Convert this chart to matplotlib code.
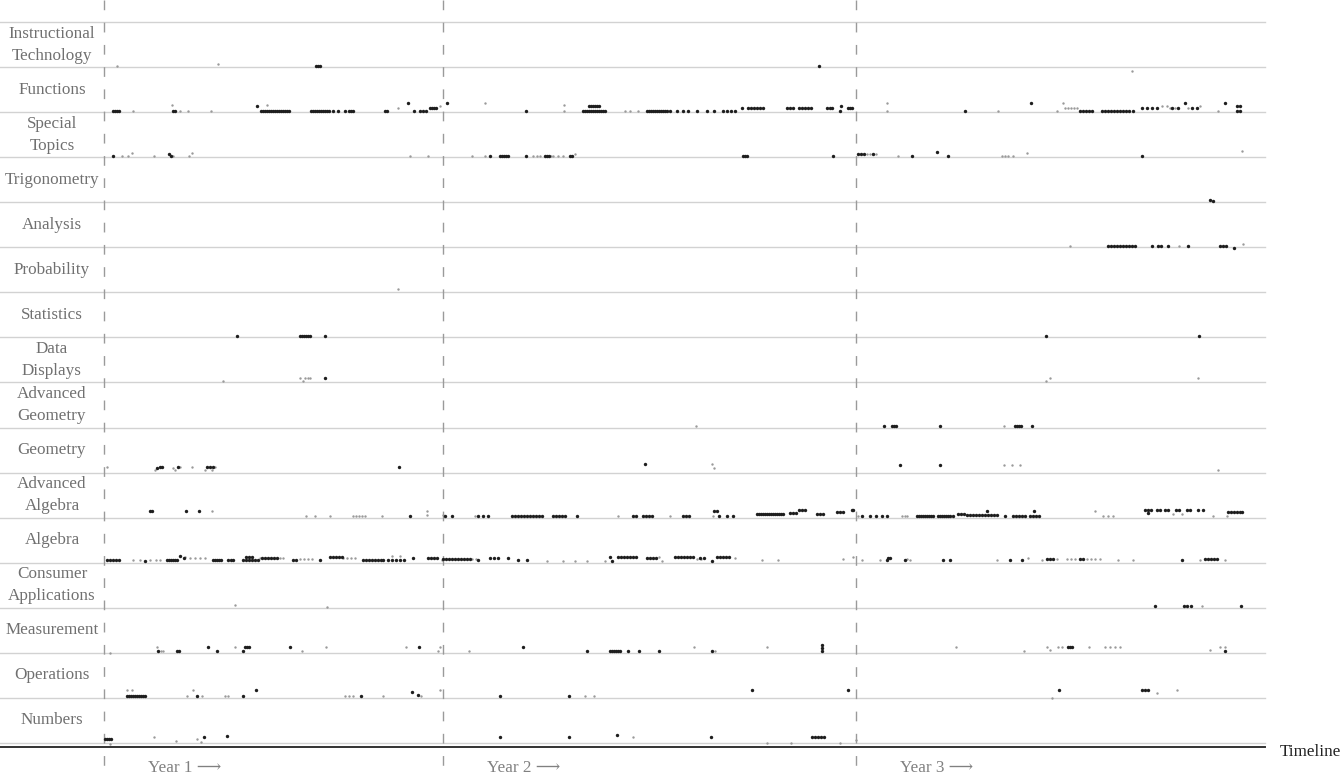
import matplotlib
matplotlib.use("Agg")
import matplotlib.pyplot as plt

# topics, top row first
categories = ["Instructional\nTechnology", "Functions", "Special\nTopics", "Trigonometry",
              "Analysis", "Probability", "Statistics", "Data\nDisplays", "Advanced\nGeometry",
              "Geometry", "Advanced\nAlgebra", "Algebra", "Consumer\nApplications",
              "Measurement", "Operations", "Numbers"]

# start day of each school year on the timeline
year_starts = [104, 443, 856]
year_labels = ["Year 1 \u27f6", "Year 2 \u27f6", "Year 3 \u27f6"]

# (day, stack offset) of the events, dark = main events, light = minor events
dark_events = {
    "Instructional\nTechnology": [(316, 0), (318, 0), (320, 0), (819, 0)],
    "Functions": [(113, 0), (115, 0), (117, 0), (119, 0), (173, 0), (175, 0), (257, 1),
                  (261, 0), (263, 0), (265, 0), (267, 0), (269, 0), (271, 0), (273, 0), (275, 0),
                  (277, 0), (279, 0), (281, 0), (283, 0), (285, 0), (287, 0), (289, 0),
                  (311, 0), (313, 0), (315, 0), (317, 0), (319, 0), (321, 0), (323, 0), (325, 0),
                  (327, 0), (329, 0), (333, 0), (338, 0), (345, 0), (349, 0), (351, 0), (353, 0),
                  (385, 0), (387, 0), (408, 1.5), (414, 0), (420, 0), (423, 0), (426, 0),
                  (430, 0.5), (432, 0.5), (434, 0.5), (436, 0.5), (447, 1.5), (526, 0),
                  (583, 0), (585, 0), (587, 0), (589, 0), (591, 0), (593, 0), (595, 0), (597, 0),
                  (599, 0), (601, 0), (603, 0), (605, 0), (589, 1), (591, 1), (593, 1), (595, 1),
                  (597, 1), (599, 1), (647, 0), (649, 0), (651, 0), (653, 0), (655, 0), (657, 0),
                  (659, 0), (661, 0), (663, 0), (665, 0), (667, 0), (670, 0), (677, 0), (683, 0),
                  (688, 0), (697, 0), (707, 0), (714, 0), (723, 0), (727, 0), (731, 0), (735, 0),
                  (742, 0.5), (748, 0.5), (751, 0.5), (754, 0.5), (757, 0.5), (760, 0.5),
                  (763, 0.5), (787, 0.5), (790, 0.5), (793, 0.5), (799, 0.5), (802, 0.5),
                  (805, 0.5), (808, 0.5), (811, 0.5), (827, 0.5), (830, 0.5), (832, 0.5),
                  (840, 0), (841, 1), (848, 0.5), (850, 0.5), (852, 0.5), (965, 0), (1031, 1.5),
                  (1080, 0), (1083, 0), (1086, 0), (1089, 0), (1092, 0), (1102, 0), (1105, 0),
                  (1108, 0), (1111, 0), (1114, 0), (1117, 0), (1120, 0), (1123, 0), (1126, 0),
                  (1129, 0), (1133, 0), (1142, 0.5), (1147, 0.5), (1152, 0.5), (1157, 0.5),
                  (1172, 0.5), (1178, 0.5), (1185, 1.5), (1192, 0.5), (1197, 0.5), (1225, 1.5),
                  (1237, 0), (1240, 0), (1237, 1), (1240, 1)],
    "Special\nTopics": [(113, 0), (169, 0.3), (171, 0), (490, 0), (500, 0), (502, 0), (504, 0),
                        (506, 0), (508, 0), (526, 0), (545, 0), (547, 0), (549, 0), (570, 0),
                        (572, 0), (743, 0), (745, 0), (747, 0), (833, 0), (858, 0.3), (861, 0.3),
                        (864, 0.3), (873, 0.3), (912, 0), (937, 0.7), (948, 0), (1142, 0)],
    "Trigonometry": [(1210, 0.2), (1213, 0)],
    "Analysis": [(1108, 0), (1111, 0), (1114, 0), (1117, 0), (1120, 0), (1123, 0), (1126, 0),
                 (1129, 0), (1132, 0), (1135, 0), (1152, 0), (1158, 0), (1161, 0), (1168, 0),
                 (1188, 0), (1220, 0), (1223, 0), (1226, 0), (1234, -0.5)],
    "Probability": [],
    "Statistics": [(237, 0), (300, 0), (302, 0), (304, 0), (306, 0), (308, 0), (310, 0),
                   (325, 0), (1046, 0), (1199, 0)],
    "Data\nDisplays": [(325, 0.6)],
    "Advanced\nGeometry": [(884, 0), (892, 0), (894, 0), (896, 0), (940, 0), (1015, 0),
                           (1017, 0), (1019, 0), (1021, 0), (1032, 0)],
    "Geometry": [(157, 0.6), (160, 0.8), (162, 0.8), (178, 0.8), (207, 0.8), (210, 0.8),
                 (213, 0.8), (399, 0.8), (645, 1.4), (900, 1.2), (940, 1.2)],
    "Advanced\nAlgebra": [(150, 1), (152, 1), (186, 1), (199, 1), (410, 0), (445, 0), (452, 0),
                          (478, 0), (483, 0), (488, 0), (512, 0), (515, 0), (518, 0), (521, 0),
                          (524, 0), (527, 0), (530, 0), (533, 0), (536, 0), (539, 0), (542, 0),
                          (553, 0), (556, 0), (559, 0), (562, 0), (565, 0), (577, 0), (633, 0),
                          (636, 0), (643, 0), (646, 0), (649, 0), (652, 0), (683, 0), (686, 0),
                          (689, 0), (714, 1), (717, 1), (719, 0), (727, 0), (733, 0),
                          (757, 0.5), (759, 0.5), (761, 0.5), (763, 0.5), (765, 0.5), (767, 0.5),
                          (769, 0.5), (771, 0.5), (773, 0.5), (775, 0.5), (777, 0.5), (779, 0.5),
                          (781, 0.5), (783, 0.5), (790, 0.6), (793, 0.6), (796, 0.6), (799, 1.2),
                          (802, 1.2), (805, 1.2), (817, 0.5), (820, 0.5), (823, 0.5), (837, 0.8),
                          (840, 0.8), (843, 0.8), (852, 1.2), (853, 1.2), (862, 0), (870, 0),
                          (876, 0), (882, 0), (887, 0), (917, 0), (919, 0), (921, 0), (923, 0),
                          (925, 0), (927, 0), (929, 0), (931, 0), (933, 0), (938, 0), (940, 0),
                          (942, 0), (944, 0), (946, 0), (948, 0), (950, 0), (953, 0), (958, 0.4),
                          (961, 0.4), (964, 0.4), (967, 0.2), (970, 0.2), (973, 0.2), (976, 0.2),
                          (979, 0.2), (982, 0.2), (985, 0.2), (988, 0.2), (991, 0.2), (994, 0.2),
                          (997, 0.2), (987, 1), (1005, 0), (1013, 0), (1016, 0), (1019, 0),
                          (1022, 0), (1025, 0), (1030, 0), (1033, 0), (1036, 0), (1039, 0),
                          (1034, 1), (1145, 1.2), (1148, 1.2), (1151, 1.2), (1148, 0.6),
                          (1157, 1.2), (1160, 1.2), (1165, 1.2), (1168, 1.2), (1176, 1.2),
                          (1179, 1.2), (1187, 1.2), (1190, 1.2), (1198, 1.2), (1203, 1.2),
                          (1228, 0.9), (1231, 0.9), (1234, 0.9), (1237, 0.9), (1240, 0.9),
                          (1242, 0.9)],
    "Algebra": [(107, 0.3), (110, 0.3), (113, 0.3), (116, 0.3), (119, 0.3), (145, 0), (167, 0.3),
                (169, 0.3), (171, 0.3), (173, 0.3), (175, 0.3), (177, 0.3), (180, 1), (184, 0.6),
                (213, 0.3), (215, 0.3), (217, 0.3), (219, 0.3), (221, 0.3), (228, 0.3), (231, 0.3),
                (233, 0.3), (243, 0.3), (246, 0.3), (249, 0.3), (252, 0.3), (255, 0.3), (258, 0.3),
                (246, 0.9), (249, 0.9), (252, 0.9), (262, 0.6), (265, 0.6), (268, 0.6), (271, 0.6),
                (274, 0.6), (277, 0.6), (293, 0.3), (296, 0.3), (320, 0.3), (330, 0.8), (333, 0.8),
                (336, 0.8), (339, 0.8), (342, 0.8), (363, 0.3), (366, 0.3), (369, 0.3), (372, 0.3),
                (375, 0.3), (378, 0.3), (381, 0.3), (383, 0.3), (388, 0.3), (392, 0.3), (396, 0.3),
                (400, 0.3), (404, 0.3), (413, 0.6), (428, 0.7), (431, 0.7), (434, 0.7), (437, 0.7),
                (443, 0.5), (446, 0.5), (449, 0.5), (452, 0.5), (455, 0.5), (458, 0.5), (461, 0.5),
                (464, 0.5), (467, 0.5), (470, 0.5), (478, 0.3), (490, 0.6), (494, 0.6), (498, 0.6),
                (508, 0.6), (518, 0.3), (527, 0.3), (610, 0.9), (612, 0), (618, 0.8), (621, 0.8),
                (624, 0.8), (627, 0.8), (630, 0.8), (633, 0.8), (636, 0.8), (647, 0.6), (650, 0.6),
                (653, 0.6), (656, 0.6), (675, 0.8), (678, 0.8), (681, 0.8), (684, 0.8), (687, 0.8),
                (690, 0.8), (693, 0.8), (700, 0.6), (704, 0.6), (712, 0.1), (717, 0.9), (720, 0.9),
                (723, 0.9), (726, 0.9), (729, 0.9), (887, 0.3), (888, 0.6), (890, 0.6), (905, 0.3),
                (943, 0.3), (950, 0.3), (1010, 0.3), (1022, 0.3), (1047, 0.4), (1050, 0.4),
                (1053, 0.4), (1080, 0.5), (1083, 0.5), (1182, 0.3), (1205, 0.4), (1208, 0.4),
                (1211, 0.4), (1214, 0.4), (1217, 0.4)],
    "Consumer\nApplications": [(1155, 0), (1184, 0), (1187, 0), (1191, 0), (1241, 0)],
    "Measurement": [(158, 0), (177, 0), (179, 0), (208, 0.8), (217, 0), (243, 0), (245, 0.8),
                    (247, 0.8), (249, 0.8), (290, 0.8), (419, 0.8), (523, 0.8), (587, 0),
                    (610, 0), (612, 0), (614, 0), (616, 0), (618, 0), (620, 0), (628, 0),
                    (639, 0), (659, 0), (712, 0), (822, 0), (822, 0.6), (822, 1.2), (1068, 0.8),
                    (1070, 0.8), (1072, 0.8), (1225, 0)],
    "Operations": [(127, 0), (129, 0), (131, 0), (133, 0), (135, 0), (137, 0), (139, 0),
                   (141, 0), (143, 0), (145, 0), (197, 0), (243, 0), (256, 1.3), (361, 0),
                   (412, 0.8), (418, 0.2), (500, 0), (569, 0), (752, 1.3), (848, 1.3),
                   (1059, 1.3), (1142, 1.3), (1145, 1.3), (1148, 1.3)],
    "Numbers": [(105, 0.5), (107, 0.5), (109, 0.5), (111, 0.5), (204, 0.8), (227, 1),
                (500, 0.8), (569, 0.8), (617, 1.2), (711, 0.8), (812, 0.8), (815, 0.8),
                (818, 0.8), (821, 0.8), (824, 0.8)],
}

light_events = {
    "Instructional\nTechnology": [(117, 0), (218, 0.3), (1132, -1)],
    "Functions": [(133, 0), (172, 1.2), (180, 0), (188, 0), (211, 0), (267, 1.2), (398, 0.5),
                  (440, 1), (485, 1.5), (564, 1.2), (564, 0), (625, 0), (630, 0), (638, 0),
                  (887, 1.5), (887, 0), (998, 0), (1057, 0), (1063, 1.5), (1065, 0.5),
                  (1068, 0.5), (1071, 0.5), (1074, 0.5), (1077, 0.5), (1162, 1), (1167, 1),
                  (1170, 0.5), (1175, 0.5), (1188, 0.5), (1200, 1), (1218, 0)],
    "Special\nTopics": [(122, 0), (128, 0), (132, 0.5), (154, 0), (173, 0), (189, 0),
                        (192, 0.6), (410, 0), (428, 0), (472, 0), (485, 0), (533, 0), (537, 0),
                        (540, 0), (551, 0), (553, 0), (558, 0), (563, 0), (575, 0.3), (867, 0.3),
                        (870, 0.3), (876, 0.3), (898, 0), (1002, 0), (1005, 0), (1008, 0),
                        (1013, 0), (1027, 0.6), (1242, 1)],
    "Trigonometry": [],
    "Analysis": [(1070, 0), (1179, 0), (1243, 0.3)],
    "Probability": [(398, 0.3)],
    "Statistics": [],
    "Data\nDisplays": [(223, 0), (300, 0.6), (303, 0), (305, 0.6), (308, 0.6), (310, 0.6),
                       (1046, 0), (1050, 0.6), (1198, 0.6)],
    "Advanced\nGeometry": [(696, 0), (1004, 0)],
    "Geometry": [(107, 0.8), (155, 0.2), (173, 0.6), (175, 0.2), (180, 0.8), (192, 0.8),
                 (205, 0.2), (212, 0.2), (215, 0.8), (712, 1.4), (714, 0.6), (1004, 1.2),
                 (1012, 1.2), (1020, 1.2), (1218, 0.2)],
    "Advanced\nAlgebra": [(212, 1), (306, 0), (315, 0), (330, 0), (353, 0), (356, 0), (359, 0),
                          (362, 0), (365, 0), (382, 0), (427, 1), (427, 0.3), (443, 0.3),
                          (475, 0), (618, 0), (670, 0), (713, 0), (858, 0), (902, 0), (905, 0),
                          (907, 0), (1095, 1), (1103, 0), (1108, 0), (1113, 0), (1173, 0.5),
                          (1182, 0.5), (1213, 0), (1227, 0)],
    "Algebra": [(133, 0.3), (140, 0.3), (150, 0.3), (156, 0.3), (160, 0.3), (185, 0.9),
                (190, 0.6), (195, 0.6), (200, 0.6), (205, 0.6), (260, 0.7), (280, 0.7),
                (283, 0.7), (300, 0.5), (304, 0.5), (308, 0.5), (312, 0.5), (343, 0.7),
                (347, 0.7), (351, 0.7), (355, 0.7), (392, 1), (400, 1), (442, 0.3), (472, 0.5),
                (476, 0.5), (547, 0), (563, 0), (575, 0), (587, 0), (605, 0), (659, 0.8),
                (662, 0), (697, 0.5), (701, 0.5), (735, 0.6), (762, 0.3), (778, 0.3), (843, 0.5),
                (853, 0.9), (862, 0.3), (880, 0.3), (907, 0.5), (910, 0.3), (997, 0.3),
                (1028, 0.6), (1042, 0.3), (1057, 0.5), (1067, 0.5), (1071, 0.5), (1075, 0.5),
                (1087, 0.5), (1091, 0.5), (1095, 0.5), (1100, 0.5), (1118, 0.3), (1133, 0.3),
                (1200, 0.3), (1225, 0.3)],
    "Consumer\nApplications": [(235, 0.3), (327, -0.2), (1202, 0)],
    "Measurement": [(110, -0.3), (157, 0.8), (161, 0), (163, 0), (235, 0.8), (302, 0),
                    (326, 0.8), (406, 0.8), (438, 0), (440, 0.8), (469, 0), (694, 0.8), (715, 0),
                    (767, 0.8), (956, 0.8), (1024, 0), (1047, 0.8), (1050, 0.3), (1058, 0.8),
                    (1062, 0.8), (1089, 0.8), (1105, 0.8), (1110, 0.8), (1115, 0.8),
                    (1120, 0.8), (1210, 0.3), (1220, 0.8), (1225, 0.8)],
    "Operations": [(127, 1.3), (132, 1.3), (187, 0), (193, 1.3), (202, 0), (225, 0), (228, 0),
                   (345, 0), (349, 0), (353, 0), (383, 0), (421, 0), (440, 1.2), (585, 0),
                   (594, 0), (1052, -0.3), (1157, 0.6), (1177, 1.3)],
    "Numbers": [(110, -0.5), (154, 0.8), (176, 0), (197, 0.5), (201, -0.2), (633, 0.8),
                (767, -0.3), (791, -0.3), (840, -0.3), (856, 0.3)],
}


fig = plt.figure(figsize=(13.42, 7.77), dpi=100)
ax = fig.add_axes([0, 0, 1, 1])
ax.set_xlim(0, 1342)
ax.set_ylim(777, 0)
ax.axis("off")

top = 22
row_h = 45.06
line_end = 1265
serif = ["Liberation Serif", "DejaVu Serif"]

# row separators
for i in range(len(categories) + 1):
    ax.plot([0, line_end], [top + i * row_h] * 2, color="#d2d2d2", lw=1.0, zorder=1)

# main timeline
base = top + len(categories) * row_h
ax.plot([0, line_end], [base + 4.5, base + 4.5], color="#333333", lw=1.4, zorder=2)
ax.text(1280, base + 9, "Timeline", family=serif, fontsize=12.3, color="#222222",
        va="center", ha="left")

# year boundaries
for x, lab in zip(year_starts, year_labels):
    ax.plot([x, x], [0, 777], color="#9a9a9a", lw=1.0, dashes=(7, 9), zorder=1)
    ax.text(x + 44, 768, lab, family=serif, fontsize=12.3, color="#808080",
            va="center", ha="left")

for i, cat in enumerate(categories):
    ax.text(52, top + i * row_h + row_h / 2, cat, family=serif, fontsize=12.3,
            color="#707070", ha="center", va="center", linespacing=1.5)
    baseline = top + (i + 1) * row_h
    light = light_events[cat]
    if light:
        ax.scatter([p[0] for p in light], [baseline - 1.5 - 5 * p[1] for p in light],
                   s=3, color="#9a9a9a", marker="o", linewidths=0, zorder=3)
    dark = dark_events[cat]
    if dark:
        ax.scatter([p[0] for p in dark], [baseline - 1.5 - 5 * p[1] for p in dark],
                   s=6, color="#1e1e1e", marker="o", linewidths=0, zorder=4)

fig.savefig("out.png", dpi=100)
